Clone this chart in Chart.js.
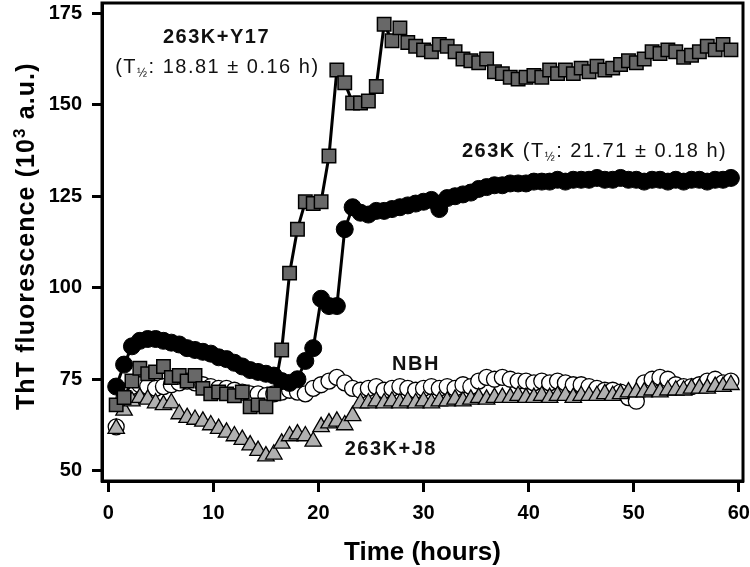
<!DOCTYPE html>
<html>
<head>
<meta charset="utf-8">
<script src="https://cdn.jsdelivr.net/npm/chart.js@4"></script>
<style>
  body { margin: 0; background: #fff; }
  canvas { display: block; }
</style>
</head>
<body>
<canvas id="chart" width="750" height="567"></canvas>
<script>
// sampling times (hours)
const hours = [0.75, 1.5, 2.25, 3, 3.75, 4.5, 5.25, 6, 6.75, 7.5, 8.25, 9, 9.75, 10.5, 11.25, 12, 12.75, 13.5, 14.25, 15,
  15.75, 16.5, 17.25, 18, 18.75, 19.5, 20.25, 21, 21.75, 22.5, 23.25, 24, 24.75, 25.5, 26.25, 27, 27.75, 28.5, 29.25, 30,
  30.75, 31.5, 32.25, 33, 33.75, 34.5, 35.25, 36, 36.75, 37.5, 38.25, 39, 39.75, 40.5, 41.25, 42, 42.75, 43.5, 44.25, 45,
  45.75, 46.5, 47.25, 48, 48.75, 49.5, 50.25, 51, 51.75, 52.5, 53.25, 54, 54.75, 55.5, 56.25, 57, 57.75, 58.5, 59.25];

// ThT fluorescence (10^3 a.u.)
const y17 = [68, 70, 74.5, 78, 76.5, 77, 78.5, 75.5, 76, 74.5, 76, 72.5, 71, 71.5, 71, 70.5, 71.5, 67.5, 68, 67.5,
  71, 83, 104, 116, 123.5, 123, 123.5, 136, 159.5, 156, 150.5, 150.5, 151, 155, 172, 167.5, 171, 167, 166, 165,
  164.5, 166.5, 166, 164.5, 162.5, 162, 161.5, 162.5, 159, 158.5, 157.5, 157, 157.5, 158, 157.5, 159.5, 158.5, 159.5, 158.5, 160,
  159, 160.5, 159.5, 160, 161, 162, 161.5, 162.5, 164.5, 164, 165, 164.5, 163, 163.5, 164.5, 166, 165, 166.5, 165];

const k263 = [73, 79, 84, 85.5, 86, 86, 85.5, 85, 84.5, 83.5, 83, 82.5, 82, 81, 80.5, 79.5, 78.5, 77.5, 77, 76.5,
  76, 74.5, 74, 75, 80, 83.5, 97, 95, 95, 116, 122, 120.5, 120, 121, 121, 121.5, 122, 122.5, 123, 123.5,
  124, 121.5, 124.5, 125, 125.5, 126, 127, 127.5, 128, 128, 128.5, 128.5, 128.5, 129, 129, 129, 129.5, 129, 129.5, 129.5,
  129.5, 130, 129.5, 129.5, 130, 129.5, 129.5, 129, 129.5, 129.5, 129, 129.5, 129, 129.5, 129.5, 129, 129.5, 129.5, 130];

const nbh = [62, 70, 73, 73.5, 73, 72.5, 73, 73.5, 74, 74.5, 74, 73.5, 73, 72.5, 72.5, 72, 71.5, 71, 71, 70.5,
  71, 71.5, 72, 71.5, 71, 72.5, 73.5, 74.5, 75.5, 74, 72.5, 72, 72.5, 73, 72, 72.5, 73, 72.5, 72, 72.5,
  73, 72.5, 73, 72.5, 73.5, 73, 74.5, 75.5, 75, 75.5, 75, 74.5, 74.5, 74, 74.5, 74, 74.5, 74, 73.5, 73.5,
  73, 72.5, 72, 72, 71.5, 70, 69, 74, 75, 75.5, 75, 73.5, 73, 73, 73.5, 74.5, 75, 74, 74.5];

const j8 = [61.5, 66.5, 69, 70, 69.5, 68.5, 68, 68.5, 65.5, 64.5, 64, 63.5, 62.5, 61.5, 60.5, 59.5, 58.5, 57, 55.5, 54,
  54.5, 57.5, 59.5, 60, 59.5, 58, 62, 63, 63.5, 62.5, 65, 68.5, 68.5, 69, 68.5, 69, 68.5, 69, 68.5, 69,
  68.5, 69, 69, 69.5, 69, 69.5, 70, 69.5, 70, 70, 70, 70.5, 70, 70, 70.5, 70, 70.5, 70.5, 70, 70.5,
  70.5, 70.5, 71, 70.5, 71, 71.5, 71.5, 71.5, 72, 71.5, 72, 72, 72, 72.5, 72.5, 72.5, 73, 73, 73.5];

const xTicks = [0, 10, 20, 30, 40, 50, 60];
const yTicks = [50, 75, 100, 125, 150, 175];

const FONT = 'Liberation Sans, Arial, Helvetica, sans-serif';
Chart.defaults.font.family = FONT;
Chart.defaults.color = '#000';

// big markers would otherwise push the plot area inwards
Chart.registry.getController('line').prototype.getMaxOverflow = function () { return 0; };

function pts(values) {
  return values.map((v, i) => ({ x: hours[i], y: v }));
}

// text labels, left edge and baseline in data units
const labels = [
  { x: 5.2, y: 166.9, runs: [['263K+Y17', 'bold 20px']] },
  { x: 0.65, y: 158.6, runs: [['(T', '20px'], ['½', '12px', 4], [': 18.81 ± 0.16 h)', '20px']] },
  { x: 33.65, y: 135.6, runs: [['263K', 'bold 20px'], [' (T', '20px'], ['½', '12px', 4], [': 21.71 ± 0.18 h)', '20px']] },
  { x: 27.0, y: 77.5, runs: [['NBH', 'bold 20px']] },
  { x: 22.5, y: 54.3, runs: [['263K+J8', 'bold 20px']] }
];

const yTitle = [['ThT fluorescence (10', 'bold 25px'], ['3', 'bold 17px', -9], [' a.u.)', 'bold 25px']];

function drawRuns(ctx, runs, x, y) {
  runs.forEach(r => {
    ctx.font = r[1] + ' ' + FONT;
    ctx.fillText(r[0], x, y + (r[2] || 0));
    x += ctx.measureText(r[0]).width;
  });
}

const framePlugin = {
  id: 'frame',
  afterDatasetsDraw(chart) {
    const { ctx, chartArea: a } = chart;
    ctx.save();
    ctx.strokeStyle = '#000';
    ctx.lineWidth = 3;
    ctx.strokeRect(a.left, a.top, a.right - a.left, a.bottom - a.top);
    ctx.restore();
  },
  afterDraw(chart) {
    const { ctx, scales } = chart;
    ctx.save();
    ctx.fillStyle = '#111';
    ctx.textBaseline = 'alphabetic';
    ctx.textAlign = 'left';
    ctx.letterSpacing = '1.5px';
    labels.forEach(l => {
      drawRuns(ctx, l.runs, scales.x.getPixelForValue(l.x), scales.y.getPixelForValue(l.y));
    });
    // y axis title, rotated, with superscript
    ctx.fillStyle = '#000';
    ctx.letterSpacing = '1.1px';
    ctx.translate(33.5, 410);
    ctx.rotate(-Math.PI / 2);
    drawRuns(ctx, yTitle, 0, 0);
    ctx.restore();
  }
};

new Chart(document.getElementById('chart'), {
  type: 'line',
  data: {
    datasets: [
      {
        label: '263K+Y17', data: pts(y17), order: 0,
        borderColor: '#000', borderWidth: 3, tension: 0,
        pointStyle: 'rect', pointRadius: 9.5, pointBackgroundColor: '#686868',
        pointBorderColor: '#000', pointBorderWidth: 1.5
      },
      {
        label: '263K', data: pts(k263), order: 1,
        borderColor: '#000', borderWidth: 3, tension: 0,
        pointStyle: 'circle', pointRadius: 8.5, pointBackgroundColor: '#000',
        pointBorderColor: '#000', pointBorderWidth: 1
      },
      {
        label: '263K+J8', data: pts(j8), order: 2, showLine: false,
        pointStyle: 'triangle', pointRadius: 9.5, pointBackgroundColor: '#b0b0b0',
        pointBorderColor: '#000', pointBorderWidth: 1.3
      },
      {
        label: 'NBH', data: pts(nbh), order: 3, showLine: false,
        pointStyle: 'circle', pointRadius: 8, pointBackgroundColor: '#fff',
        pointBorderColor: '#000', pointBorderWidth: 1.3
      }
    ]
  },
  options: {
    responsive: false,
    animation: false,
    devicePixelRatio: 1,
    layout: { padding: { top: 3, right: 7, left: 0, bottom: 0 } },
    plugins: { legend: { display: false }, tooltip: { enabled: false } },
    scales: {
      x: {
        type: 'linear', min: -0.6, max: 60.4,
        afterBuildTicks: s => { s.ticks = xTicks.map(v => ({ value: v })); },
        afterFit: s => { s.height = 86; s.paddingLeft = 0; s.paddingRight = 0; },
        grid: { drawOnChartArea: false, drawTicks: true, tickLength: 11, tickWidth: 3, tickColor: '#000' },
        border: { display: true, color: '#000', width: 3 },
        ticks: { font: { size: 20, weight: 'bold' }, padding: 9, maxRotation: 0 },
        title: { display: true, text: 'Time (hours)', font: { size: 26, weight: 'bold', lineHeight: 1 }, padding: { top: 0, bottom: 1 } }
      },
      y: {
        type: 'linear', min: 47.2, max: 177.8,
        afterBuildTicks: s => { s.ticks = yTicks.map(v => ({ value: v })); },
        afterFit: s => { s.width = 102; s.paddingTop = 0; s.paddingBottom = 0; },
        grid: { drawOnChartArea: false, drawTicks: true, tickLength: 10, tickWidth: 3, tickColor: '#000' },
        border: { display: true, color: '#000', width: 3 },
        ticks: { font: { size: 20, weight: 'bold' }, padding: 10 },
        title: { display: false }
      }
    }
  },
  plugins: [framePlugin]
});
</script>
</body>
</html>
